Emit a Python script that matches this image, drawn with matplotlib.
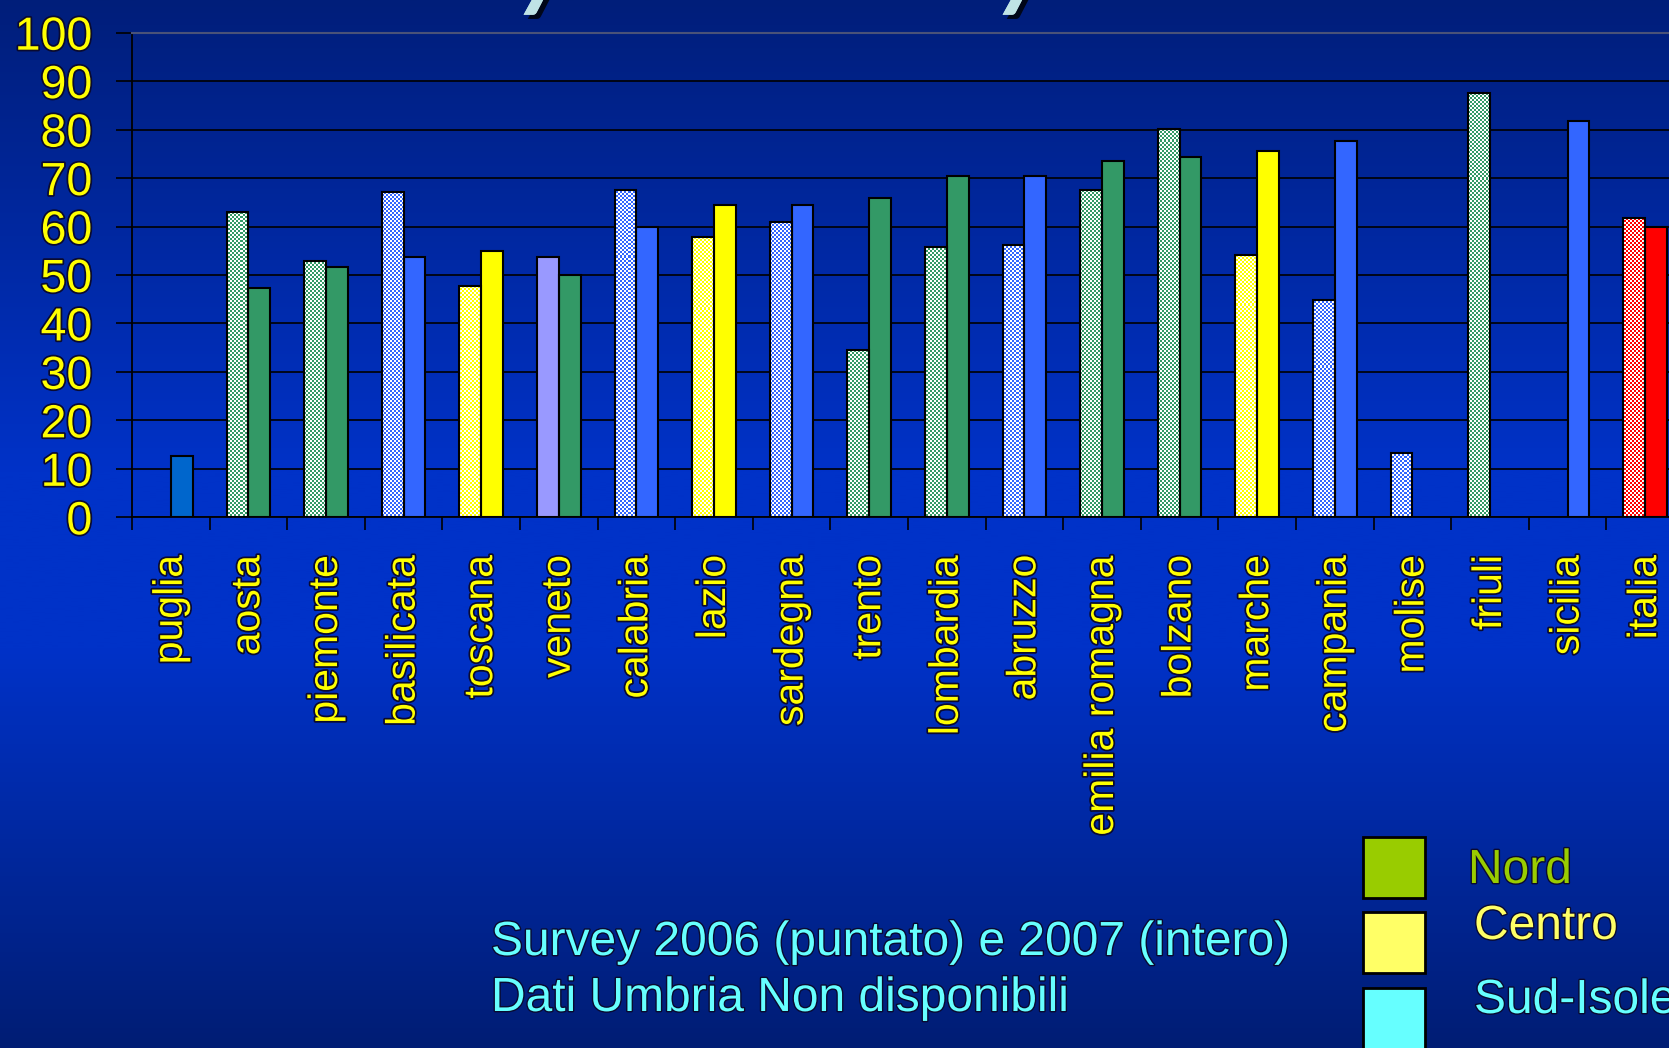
import numpy as np
import matplotlib
matplotlib.use("Agg")
import matplotlib.pyplot as plt
import matplotlib.patheffects as pe
from matplotlib.patches import Rectangle

# ---------------- data ----------------
categories = ['puglia', 'aosta', 'piemonte', 'basilicata', 'toscana', 'veneto',
              'calabria', 'lazio', 'sardegna', 'trento', 'lombardia', 'abruzzo',
              'emilia romagna', 'bolzano', 'marche', 'campania', 'molise',
              'friuli', 'sicilia', 'italia']
areas = ['Sud', 'Nord', 'Nord', 'Sud', 'Centro', 'Nord', 'Sud', 'Centro', 'Sud',
         'Nord', 'Nord', 'Sud', 'Nord', 'Nord', 'Centro', 'Sud', 'Sud', 'Nord',
         'Sud', 'Italia']
nan = np.nan
values_2006 = [nan, 63.1, 52.8, 67.2, 47.8, 53.8, 67.5, 57.8, 61.0, 34.6, 55.8,
               56.2, 67.6, 80.1, 54.1, 44.8, 13.2, 87.5, nan, 61.7]
values_2007 = [12.6, 47.4, 51.7, 53.8, 55.0, 50.1, 59.9, 64.4, 64.4, 65.9, 70.4,
               70.4, 73.6, 74.3, 75.5, 77.6, nan, nan, 81.8, 59.9]
yticks = list(range(0, 101, 10))

legend_labels = ['Nord', 'Centro', 'Sud-Isole']
notes = ['Survey 2006 (puntato) e 2007 (intero)', 'Dati Umbria Non disponibili']

# ---------------- style ----------------
area_colors = {'Nord': '#339966', 'Centro': '#ffff00', 'Sud': '#3366ff', 'Italia': '#ff0000'}
special_2007 = {'puglia': '#0066cc'}
solid_2006 = {'veneto': '#9999ff'}
legend_colors = ['#99cc00', '#ffff66', '#66ffff']

plt.rcParams['font.family'] = ['Liberation Sans', 'DejaVu Sans']

W_PX, H_PX = 1669, 1048
fig = plt.figure(figsize=(W_PX / 100, H_PX / 100), dpi=100)

# background gradient
bg = fig.add_axes([0, 0, 1, 1], zorder=-10)
stops_pos = [0.0, 0.45, 0.62, 1.0]
stops_col = np.array([[0, 30, 122], [0, 50, 200], [0, 50, 200], [0, 29, 116]]) / 255.0
t = np.linspace(0, 1, 512)
grad = np.stack([np.interp(t, stops_pos, stops_col[:, k]) for k in range(3)], axis=-1)
bg.imshow(grad[:, None, :], aspect='auto', extent=[0, 1, 0, 1], origin='upper')
bg.axis('off')

# main axes
ax_left = 132 / W_PX
ax_top = 1 - 32.7 / H_PX
ax_bottom = 1 - 517.3 / H_PX
cat_px = 77.6
n = len(categories)
ax = fig.add_axes([ax_left, ax_bottom, n * cat_px / W_PX, ax_top - ax_bottom])
ax.patch.set_alpha(0)

x = np.arange(n) + 0.5
bw = 0.28

face_2006, dotted_2006 = [], []
for c, a in zip(categories, areas):
    if c in solid_2006:
        face_2006.append(solid_2006[c]); dotted_2006.append(False)
    else:
        face_2006.append('white'); dotted_2006.append(True)
face_2007 = [special_2007.get(c, area_colors[a]) for c, a in zip(categories, areas)]

bars06 = ax.bar(x - bw / 2, values_2006, bw, color=face_2006, edgecolor='none', zorder=2)
bars07 = ax.bar(x + bw / 2, values_2007, bw, color=face_2007, edgecolor='black',
                linewidth=1.5, zorder=3)

# stipple texture for 2006 bars
ax_w_px = n * cat_px
ax_h_px = 517.3 - 32.7
Wp, Hp = int(round(ax_w_px)), int(round(ax_h_px))
ii, jj = np.indices((Hp, Wp))
mask = ((ii // 2 + jj // 2) % 2 == 0)
for patch, dotted, a in zip(bars06.patches, dotted_2006, areas):
    h = patch.get_height()
    if not dotted or not np.isfinite(h):
        continue
    x0 = patch.get_x(); x1 = x0 + patch.get_width()
    c0 = int(np.floor(x0 / n * Wp)); c1 = int(np.ceil(x1 / n * Wp))
    r0 = int(np.floor((100 - h) / 100 * Hp))
    sub = mask[r0:Hp, c0:c1]
    col = np.array(matplotlib.colors.to_rgb(area_colors[a]))
    img = np.where(sub[..., None], col, np.ones(3))
    im = ax.imshow(img, extent=[c0 / Wp * n, c1 / Wp * n, 0, (Hp - r0) / Hp * 100],
                   origin='upper', interpolation='nearest', aspect='auto', zorder=2.5)
    im.set_clip_path(patch)
ax.bar(x - bw / 2, values_2006, bw, fill=False, edgecolor='black', linewidth=1.5, zorder=3)

ax.set_xlim(0, n)
ax.set_ylim(0, 100)

# axes styling
ax.set_yticks(yticks)
ax.set_xticks(x)
ax.set_xticklabels(categories, rotation=90, va='top', ha='center')
ax.set_xticks(np.arange(n + 1), minor=True)
ax.tick_params(axis='x', which='major', length=0, pad=27, labelsize=29.5, labelcolor='#ffff00')
ax.tick_params(axis='x', which='minor', length=9.5, width=1.2, color='black', direction='out')
ax.tick_params(axis='y', which='major', length=11.5, width=1.2, color='black',
               direction='out', pad=17, labelsize=33.5, labelcolor='#ffff00')
ax.yaxis.grid(True, color='black', linewidth=1.2)
ax.set_axisbelow(True)
for side in ['left', 'bottom']:
    ax.spines[side].set_color('black'); ax.spines[side].set_linewidth(1.3)
ax.spines['right'].set_visible(False)
ax.spines['top'].set_color('#4a5278'); ax.spines['top'].set_linewidth(1.5)

outline = [pe.withStroke(linewidth=2.5, foreground='#0a0a30')]
for lab in ax.get_xticklabels() + ax.get_yticklabels():
    lab.set_path_effects(outline)

# cut-off title fragments at top (descenders of the slide title)
for xf in [0.311, 0.598]:
    fig.text(xf, 1 + 2 / H_PX, 'y', fontsize=72, fontweight='bold', fontstyle='italic',
             family='Lato', color='#bfe3e6', va='baseline', ha='left',
             path_effects=[pe.withSimplePatchShadow(offset=(3, -3), shadow_rgbFace='black', alpha=0.8),
                           pe.Normal()])

# notes
note_y = [1 - 955 / H_PX, 1 - 1011 / H_PX]
for txt, yy in zip(notes, note_y):
    fig.text(491 / W_PX, yy, txt, fontsize=34.5, color='#66ffff', va='baseline', ha='left',
             path_effects=[pe.withStroke(linewidth=2, foreground='#0a0a30')])

# legend
box_tops = [837, 912, 988]
text_base = [883, 939, 1013]
text_x = [1468, 1474, 1474]
for lab, col, bt, tb, tx in zip(legend_labels, legend_colors, box_tops, text_base, text_x):
    fig.add_artist(Rectangle((1363 / W_PX, 1 - (bt + 61) / H_PX), 62 / W_PX, 61 / H_PX,
                             transform=fig.transFigure, facecolor=col, edgecolor='black',
                             linewidth=2))
    fig.text(tx / W_PX, 1 - tb / H_PX, lab, fontsize=34.5, color=col, va='baseline', ha='left',
             path_effects=[pe.withStroke(linewidth=2, foreground='#0a0a30')])

fig.savefig('out.png', dpi=100)
